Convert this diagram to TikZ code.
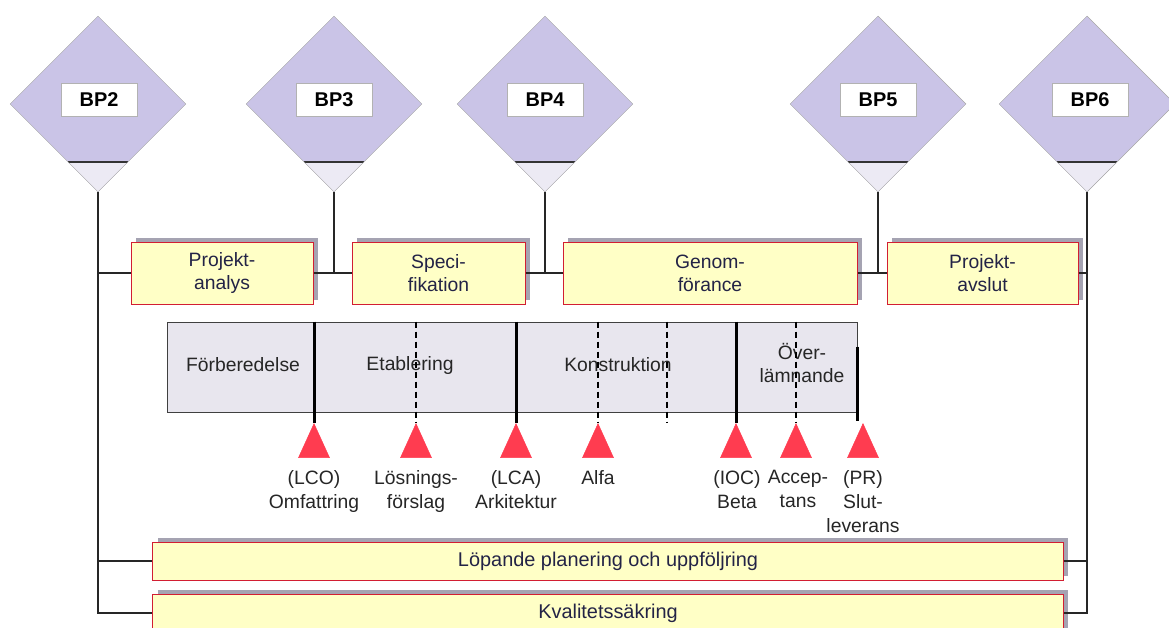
\documentclass[tikz,border=0pt]{standalone}
\usepackage{fontspec}
\setmainfont{Liberation Sans}
\usetikzlibrary{shapes.geometric,shadows}
\definecolor{bpfill}{RGB}{202,196,231}
\definecolor{tipfill}{RGB}{236,234,244}
\definecolor{boxyellow}{RGB}{255,255,198}
\definecolor{boxred}{RGB}{210,30,50}
\definecolor{boxtext}{RGB}{35,35,70}
\definecolor{barfill}{RGB}{232,230,238}
\definecolor{msred}{RGB}{255,60,80}
\definecolor{shadowgray}{RGB}{165,163,178}
\begin{document}
\begin{tikzpicture}[x=0.3mm,y=0.3mm,
bp/.style = {diamond, draw=gray!70, fill=bpfill, minimum width=52.8mm, minimum height=52.8mm, inner sep=0,
  path picture={
    \fill[tipfill] ([xshift=-9mm,yshift=9mm]path picture bounding box.south) -- (path picture bounding box.south)
      -- ([xshift=9mm,yshift=9mm]path picture bounding box.south) -- cycle;
    \draw[black!80, line width=0.4mm] ([xshift=-9mm,yshift=9mm]path picture bounding box.south)
      -- ([xshift=9mm,yshift=9mm]path picture bounding box.south);}},
bplabel/.style = {draw=gray!60, fill=white, minimum width=22.8mm, minimum height=9.9mm, inner sep=0, font=\fontsize{17}{20}\selectfont\bfseries},
phase/.style = {draw=boxred, fill=boxyellow, line width=0.3mm, minimum height=18.6mm, align=center, text=boxtext,
  font=\fontsize{16.5}{19.8}\selectfont, drop shadow={shadow xshift=1.5mm, shadow yshift=1.2mm, fill=shadowgray, opacity=1}},
track/.style = {phase, minimum width=273mm, minimum height=11.4mm, font=\fontsize{17}{20}\selectfont},
bar/.style = {draw=gray!50!black, fill=barfill, line width=0.3mm, minimum width=207mm, minimum height=27mm},
stage/.style = {align=center, text=black!85, font=\fontsize{16.5}{20.4}\selectfont},
ms/.style = {isosceles triangle, isosceles triangle stretches, shape border rotate=90, minimum width=9.3mm, minimum height=10.2mm,
  inner sep=0, fill=msred, draw=msred, anchor=apex},
mslabel/.style = {align=center, anchor=north, inner sep=0, text=black!85, font=\fontsize{16.5}{20.4}\selectfont},
link/.style = {draw=black!85, line width=0.35mm},
msline/.style = {draw=black, line width=0.9mm},
msdash/.style = {draw=black, line width=0.4mm, dash pattern=on 1.8mm off 1.2mm}
]
  \useasboundingbox (0,0) rectangle (1169,-628);
  \clip (0,0) rectangle (1169,-628);

  % beslutspunkter
  \node[bp] (bp2) at (98,-104) {};
  \node[bp] (bp3) at (334,-104) {};
  \node[bp] (bp4) at (545,-104) {};
  \node[bp] (bp5) at (878,-104) {};
  \node[bp] (bp6) at (1087,-104) {};
  \node[bplabel] (t2) at (99,-100) {BP2};
  \node[bplabel] (t3) at (334,-100) {BP3};
  \node[bplabel] (t4) at (545,-100) {BP4};
  \node[bplabel] (t5) at (878,-100) {BP5};
  \node[bplabel] (t6) at (1090,-100) {BP6};

  % projektfaser
  \node[phase, minimum width=54.6mm] (pa) at (222,-273) {Projekt-\\analys};
  \node[phase, minimum width=51.9mm] (spec) at (438.5,-273) {Speci-\\fikation};
  \node[phase, minimum width=88.2mm] (gen) at (710,-273) {Genom-\\förance};
  \node[phase, minimum width=57.3mm] (pav) at (982.5,-273) {Projekt-\\avslut};

  % löpande aktiviteter
  \node[track] (loep) at (608,-561) {Löpande planering och uppföljring};
  \node[track] (kval) at (608,-613) {Kvalitetssäkring};

  % kopplingar
  \draw[link] (bp2.south) |- (kval.west);
  \draw[link] (bp2.south |- pa.west) -- (pa.west);
  \draw[link] (bp2.south |- loep.west) -- (loep.west);
  \draw[link] (bp3.south) -- (bp3.south |- pa.east);
  \draw[link] (pa.east) -- (spec.west);
  \draw[link] (bp4.south) -- (bp4.south |- spec.east);
  \draw[link] (spec.east) -- (gen.west);
  \draw[link] (bp5.south) -- (bp5.south |- gen.east);
  \draw[link] (gen.east) -- (pav.west);
  \draw[link] (bp6.south) |- (kval.east);
  \draw[link] (pav.east) -- (bp6.south |- pav.east);
  \draw[link] (loep.east) -- (bp6.south |- loep.east);

  % utvecklingsfaser
  \node[bar] (bar) at (512,-367) {};
  \node[stage] (forb) at (243,-365) {Förberedelse};
  \node[stage] (etab) at (410,-365) {Etablering};
  \node[stage] (kons) at (618,-365) {Konstruktion};
  \node[stage] (over) at (802,-363) {Över-\\lämnande};

  % milstolpar
  \node[ms] (lco) at (314,-423) {};
  \node[ms] (lf) at (416,-423) {};
  \node[ms] (lca) at (516,-423) {};
  \node[ms] (alfa) at (598,-423) {};
  \node[ms] (ioc) at (736,-423) {};
  \node[ms] (acc) at (796,-423) {};
  \node[ms] (pr) at (863,-423) {};
  \coordinate (mid) at (667,-423);

  \draw[msline] (lco.apex |- bar.north) -- (lco.apex);
  \draw[msdash] (lf.apex |- bar.north) -- (lf.apex);
  \draw[msline] (lca.apex |- bar.north) -- (lca.apex);
  \draw[msdash] (alfa.apex |- bar.north) -- (alfa.apex);
  \draw[msdash] (mid |- bar.north) -- (mid);
  \draw[msline] (ioc.apex |- bar.north) -- (ioc.apex);
  \draw[msdash] (acc.apex |- bar.north) -- (acc.apex);
  \draw[msline] ([yshift=-7.5mm]bar.north east) -- ([yshift=-2.4mm]bar.south east);

  \node[mslabel] (lcol) at (314,-470) {(LCO)\\Omfattring};
  \node[mslabel] (lfl) at (416,-470) {Lösnings-\\förslag};
  \node[mslabel] (lcal) at (516,-470) {(LCA)\\Arkitektur};
  \node[mslabel] (alfal) at (598,-470) {Alfa};
  \node[mslabel] (iocl) at (737,-470) {(IOC)\\Beta};
  \node[mslabel] (accl) at (798,-470) {Accep-\\tans};
  \node[mslabel] (prl) at (863,-470) {(PR)\\Slut-\\leverans};
\end{tikzpicture}
\end{document}
